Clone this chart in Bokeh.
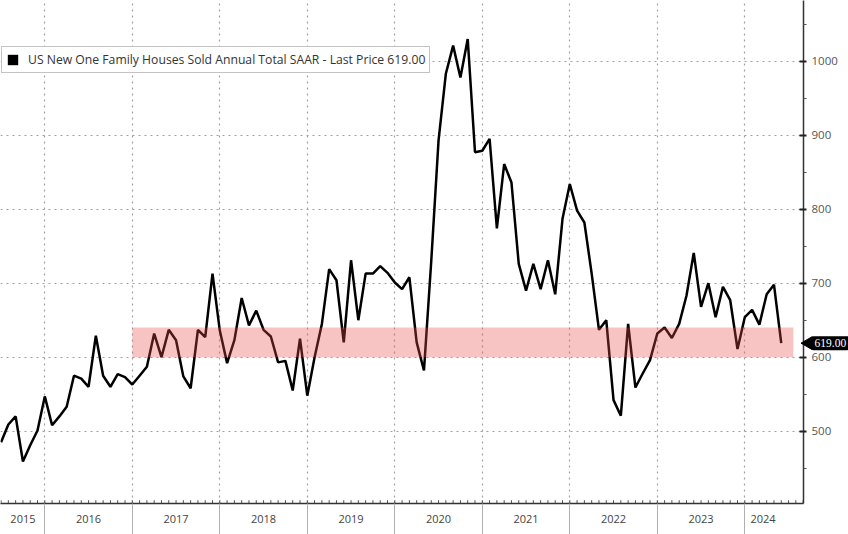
import math
import pandas as pd
from bokeh.plotting import figure
from bokeh.models import (Range1d, FixedTicker, CustomJSTickFormatter, BoxAnnotation,
                          Legend, LegendItem, ColumnDataSource)
from bokeh.embed import file_html
from bokeh.resources import INLINE

# ---- data (US new one-family houses sold, SAAR, thousands; monthly) ----
first_month = "2015-06"
sales_2015 = [485, 509, 520, 459, 481, 501, 547]                       # Jun-Dec
sales_2016 = [508, 520, 533, 575, 571, 560, 629, 575, 560, 577, 573, 563]
sales_2017 = [575, 587, 632, 600, 637, 623, 574, 558, 637, 627, 713, 636]
sales_2018 = [592, 623, 680, 643, 663, 637, 628, 593, 595, 555, 625, 548]
sales_2019 = [600, 645, 719, 704, 620, 731, 650, 713, 713, 723, 714, 701]
sales_2020 = [692, 708, 620, 582, 730, 893, 983, 1021, 978, 1030, 877, 879]
sales_2021 = [895, 774, 861, 836, 726, 690, 726, 692, 731, 685, 787, 834]
sales_2022 = [798, 782, 713, 637, 650, 542, 521, 645, 559, 578, 596, 632]
sales_2023 = [640, 626, 645, 683, 741, 668, 700, 654, 695, 677, 611, 654]
sales_2024 = [664, 644, 685, 698, 619]                                  # Jan-May

year_labels = ["2015", "2016", "2017", "2018", "2019", "2020", "2021", "2022", "2023", "2024"]
y_ticks = [500, 600, 700, 800, 900, 1000]
y_minor = [450, 550, 650, 750, 850, 950, 1050]
band_low, band_high = 600, 640
band_start_year, band_end_year = 2017.0, 2024.555

sales = (sales_2015 + sales_2016 + sales_2017 + sales_2018 + sales_2019 +
         sales_2020 + sales_2021 + sales_2022 + sales_2023 + sales_2024)
dates = pd.period_range(first_month, periods=len(sales), freq="M")
# monthly values plotted at month end, as fractional years
xs = [d.year + d.month / 12.0 for d in dates]
last_price = sales[-1]

src = ColumnDataSource(dict(x=xs, y=sales))

# ---- layout ----
x_lo, x_hi = 2015.4937, 2024.6709
y_lo, y_hi = 402.3, 1082.0
px_per_year = 87.5

p = figure(width=848, height=534, output_backend="svg", toolbar_location=None,
           x_range=Range1d(x_lo, x_hi), y_range=Range1d(y_lo, y_hi),
           y_axis_location="right", min_border_left=0, min_border_top=0,
           min_border_right=45, min_border_bottom=31)
p.outline_line_color = None
p.background_fill_color = "white"
p.border_fill_color = "white"

first_year = int(year_labels[0])
year_bounds = [first_year + i + 1 for i in range(len(year_labels) - 1)]
label_pos = []
for lab in year_labels:
    yr = int(lab)
    a = max(yr, xs[0])
    b = min(yr + 1, xs[-1])
    label_pos.append((a + b) / 2.0)

# grid
p.xgrid.ticker = FixedTicker(ticks=year_bounds)
p.ygrid.ticker = FixedTicker(ticks=y_ticks)
for g in (p.xgrid, p.ygrid):
    g.grid_line_color = "#a0a0a0"
    g.grid_line_dash = "2 4"
    g.grid_line_width = 1.2

# x axis
xa = p.xaxis[0]
xa.ticker = FixedTicker(ticks=label_pos, minor_ticks=year_bounds)
xa.formatter = CustomJSTickFormatter(args=dict(pos=label_pos, labels=year_labels), code="""
let best = 0;
for (let i = 0; i < pos.length; i++) {
  if (Math.abs(pos[i] - tick) < Math.abs(pos[best] - tick)) best = i;
}
return labels[best];
""")
xa.major_tick_in = 0
xa.major_tick_out = 0
xa.minor_tick_in = 0
xa.minor_tick_out = 31
xa.minor_tick_line_color = "#b0b0b0"
xa.axis_line_color = "#333333"
xa.axis_line_width = 1.5
xa.major_label_standoff = -20
xa.major_label_text_font = "Open Sans"
xa.major_label_text_font_size = "11px"
xa.major_label_text_color = "#444444"

# monthly small ticks along the bottom axis
all_months = pd.period_range(f"{first_year}-01", f"{year_labels[-1]}-12", freq="M")
mx = [d.year + d.month / 12.0 for d in all_months]
p.segment(x0=mx, y0=[y_lo] * len(mx), x1=mx, y1=[y_lo + 4.5] * len(mx),
          line_color="#555555", line_width=1)

# y axis (right)
ya = p.yaxis[0]
ya.ticker = FixedTicker(ticks=y_ticks, minor_ticks=y_minor)
ya.axis_line_color = "#333333"
ya.axis_line_width = 1.5
ya.major_tick_in = 4
ya.major_tick_out = 3
ya.major_tick_line_width = 2
ya.major_tick_line_color = "#222222"
ya.minor_tick_in = 0
ya.minor_tick_out = 3
ya.minor_tick_line_color = "#555555"
ya.major_label_standoff = 5
ya.major_label_text_font = "Open Sans"
ya.major_label_text_font_size = "11.5px"
ya.major_label_text_color = "#555555"

# series line
line = p.line("x", "y", source=src, line_color="black", line_width=2.5)

# highlighted band (drawn over the line, translucent)
band = BoxAnnotation(left=band_start_year, right=band_end_year,
                     bottom=band_low, top=band_high,
                     fill_color="#e84848", fill_alpha=0.33, line_color=None, level="overlay")
p.add_layout(band)

# legend (a zero-area box at the last point supplies the black square swatch)
sq = p.quad(left=[xs[-1]], right=[xs[-1]], bottom=[last_price], top=[last_price],
            fill_color="black", line_color=None)
legend = Legend(items=[LegendItem(label=f"US New One Family Houses Sold Annual Total SAAR - Last Price {last_price:.2f}",
                                  renderers=[sq])],
                location=(1, 430), margin=0, padding=4, spacing=0,
                glyph_width=13, glyph_height=13, label_height=17, label_standoff=9,
                label_text_font="Open Sans", label_text_font_size="12.2px",
                label_text_color="#333333",
                border_line_color="#888888", border_line_width=1.5,
                background_fill_color="white", background_fill_alpha=1.0)
p.add_layout(legend)

# last value tag on the right axis (overlay level so it may sit beside the frame)
tag_src = ColumnDataSource(dict(x=[x_hi], y=[last_price], t=[f"{last_price:.2f}"]))
p.scatter(x=x_hi + 5.0 / px_per_year, y=last_price, marker="triangle", angle=math.pi / 2,
          size=13, fill_color="black", line_color="black", level="overlay")
p.text(x="x", y="y", text="t", source=tag_src, x_offset=8,
       text_color="white", text_font="Open Sans", text_font_size="11.5px",
       text_baseline="middle", text_align="left",
       background_fill_color="black", padding=3, border_radius=2, level="overlay")

open("out.html", "w").write(file_html(p, INLINE))
